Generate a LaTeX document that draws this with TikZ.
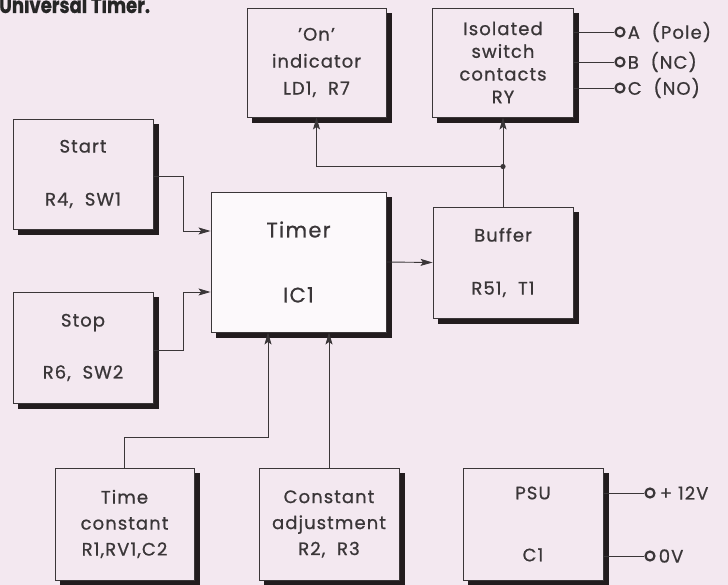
\documentclass[tikz,border=0pt]{standalone}
\usepackage{fontspec}
\setmainfont{Poppins}[LetterSpace=6, Numbers=Monospaced, FakeBold=0.8]
\newfontfamily\titlefont{Poppins}[FakeBold=0.6]
\usetikzlibrary{arrows.meta,calc}
\definecolor{bg}{RGB}{243,232,240}
\definecolor{ink}{RGB}{58,54,56}
\definecolor{shade}{RGB}{34,28,30}
\tikzset{
  blk/.style={draw=ink, line width=0.9pt, fill=bg, align=center, text=ink,
    font=\fontsize{18}{26}\selectfont, inner sep=0pt,
    preaction={fill=shade, draw=shade, line width=0.9pt, transform canvas={xshift=5pt, yshift=-5pt}}},
  conn/.style={draw=ink, line width=0.9pt},
  arr/.style={conn, -{Stealth[length=12pt,width=7pt,inset=2.5pt]}},
  term/.style={circle, draw=ink, line width=2.2pt, fill=bg, minimum size=9pt, inner sep=0pt},
  lbl/.style={text=ink, font=\fontsize{18}{20}\selectfont, inner sep=0pt}
}
\begin{document}
\begin{tikzpicture}[x=1pt,y=-1pt]
\useasboundingbox[fill=bg] (0,0) rectangle (728,585);
\node[anchor=base west, inner sep=0pt, text=black!85] (title) at (-1,13)
  {\scalebox{0.82}[1]{\titlefont\bfseries\fontsize{22}{22}\selectfont Universal Timer.}};

\node[blk, minimum width=140pt, minimum height=110pt] (start) at (83,174) {Start\\[27pt]R4,\ \ SW1};
\node[blk, minimum width=140pt, minimum height=111pt] (stop) at (83,347.5) {Stop\\[26pt]R6,\ \ SW2};
\node[blk, fill=white!75!bg, minimum width=175pt, minimum height=140pt, font=\fontsize{21}{26}\selectfont] (timer) at (298.5,262) {Timer\\[39pt]IC1};
\node[blk, minimum width=140pt, minimum height=111pt] (buffer) at (503,262.5) {Buffer\\[27pt]R51,\ \ T1};
\node[blk, minimum width=139pt, minimum height=109pt, font=\fontsize{18}{27}\selectfont] (on) at (316.5,62.5) {'On'\\indicator\\LD1,\ \ R7};
\node[blk, minimum width=141pt, minimum height=109pt, font=\fontsize{18}{22.7}\selectfont] (iso) at (503,62.5) {Isolated\\switch\\contacts\\RY};
\node[blk, minimum width=139pt, minimum height=112pt, font=\fontsize{18}{26}\selectfont] (tc) at (124.5,524) {Time\\constant\\R1,RV1,C2};
\node[blk, minimum width=140pt, minimum height=112pt, font=\fontsize{18}{26}\selectfont] (ca) at (329,524) {Constant\\adjustment\\R2,\ \ R3};
\node[blk, minimum width=140pt, minimum height=112pt] (psu) at (533,524) {PSU\\[36pt]C1};

% inputs to timer
\draw[arr] ($(start.east)+(0,2)$) -- ++(30,0) |- ($(timer.west)+(0,-31)$);
\draw[arr] ($(stop.east)+(0,3)$) -- ++(30,0) |- ($(timer.west)+(0,30)$);
\draw[arr] (tc.north) -- ++(0,-30) -| ($(timer.south)+(-30.5,0)$);
\draw[arr] (ca.north) -- (ca.north |- timer.south);
% timer to buffer
\draw[arr] (timer.east) -- (buffer.west);
% buffer to outputs
\coordinate (j) at ($(buffer.north)+(0,-40)$);
\draw[arr] (buffer.north) -- (iso.south);
\draw[arr] (j) -| (on.south);
\fill[ink] (j) circle (2.6pt);

% relay terminals
\node[term] (tA) at (620,32) {};
\node[term] (tB) at (620,62) {};
\node[term] (tC) at (620,88) {};
\draw[conn] (iso.east |- tA) -- (tA);
\draw[conn] (iso.east |- tB) -- (tB);
\draw[conn] (iso.east |- tC) -- (tC);
\node[lbl, anchor=west] (lA) at ($(tA.east)+(2,0)$) {A\ \ (Pole)};
\node[lbl, anchor=west] (lB) at ($(tB.east)+(2,0)$) {B\ \ (NC)};
\node[lbl, anchor=west] (lC) at ($(tC.east)+(2,0)$) {C\ \ (NO)};

% PSU terminals
\node[term] (tP) at (650,493) {};
\node[term] (tZ) at (650,556) {};
\draw[conn] (psu.east |- tP) -- (tP);
\draw[conn] (psu.east |- tZ) -- (tZ);
\node[lbl, anchor=west] (lP) at ($(tP.east)+(4,0)$) {+\ 12V};
\node[lbl, anchor=west] (lZ) at ($(tZ.east)+(3,0)$) {0V};
\end{tikzpicture}
\end{document}
